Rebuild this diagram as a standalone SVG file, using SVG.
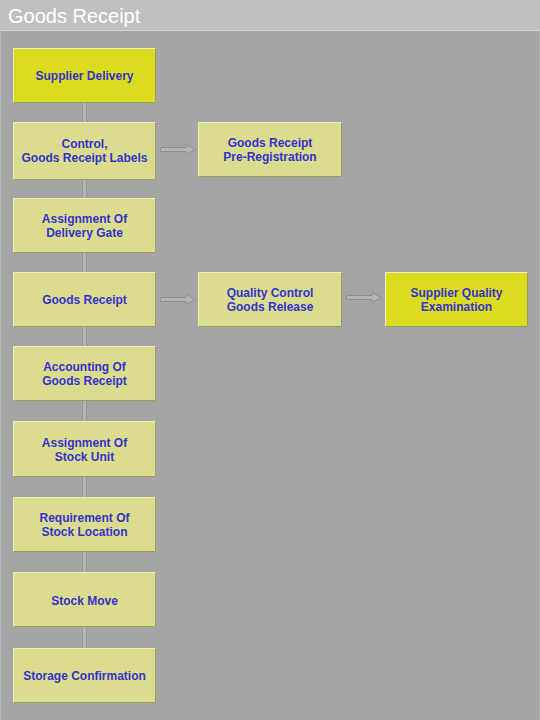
<svg xmlns="http://www.w3.org/2000/svg" width="540" height="720" viewBox="0 0 540 720">
<defs>
<style>
.bg{fill:#a5a5a5}
.hdr{fill:#c0c0c0}
.title{font-family:"Liberation Sans",Arial,sans-serif;font-size:20px;fill:#ffffff}
.box{stroke:none}
.pale{fill:#dcdc8e}
.yel{fill:#dcdc1e}
.hl{fill:none;stroke:#eeeeb8;stroke-width:1}
.sh{fill:none;stroke:#9c9c60;stroke-width:1}
.lbl{font-family:"Liberation Sans",Arial,sans-serif;font-size:12px;font-weight:bold;fill:#3333cc;text-anchor:middle}
.vline{fill:#b4b4b4;stroke:#989898;stroke-width:1}
.arr{fill:#b4b4b4;stroke:#8e8e8e;stroke-width:1}
</style>
</defs>
<rect class="bg" x="0" y="0" width="540" height="720"/>
<rect class="hdr" x="0" y="0" width="540" height="30"/>
<line x1="0" y1="30.5" x2="540" y2="30.5" stroke="#d2d2d2" stroke-width="1"/>
<line x1="0.5" y1="31" x2="0.5" y2="720" stroke="#b8b8b8" stroke-width="1"/>
<line x1="539.5" y1="31" x2="539.5" y2="720" stroke="#b8b8b8" stroke-width="1"/>
<text class="title" x="8" y="23">Goods Receipt</text>

<g id="connectors">
<rect class="vline" x="82.5" y="100" width="4" height="550"/>
<path class="arr" d="M160.5,147.5 H186 V144.5 L195.5,149.5 L186,154.5 V151.5 H160.5 Z"/>
<path class="arr" d="M160.5,297.5 H186 V294.5 L195.5,299.5 L186,304.5 V301.5 H160.5 Z"/>
<path class="arr" d="M346.5,295.5 H372 V292.5 L381.5,297.5 L372,302.5 V299.5 H346.5 Z"/>
</g>

<g id="n1">
<rect class="box yel" x="13" y="48" width="143" height="55"/>
<path class="hl" d="M13.5,102.5 V48.5 H155.5" stroke="#eeee80"/>
<path class="sh" d="M13.5,102.5 H155.5 V48.5" stroke="#a4a41a"/>
<text class="lbl" x="84.5" y="80">Supplier Delivery</text>
</g>

<g id="n2">
<rect class="box pale" x="13" y="122" width="143" height="58"/>
<path class="hl" d="M13.5,179.5 V122.5 H155.5"/>
<path class="sh" d="M13.5,179.5 H155.5 V122.5"/>
<text class="lbl" x="84.5" y="148">Control,</text>
<text class="lbl" x="84.5" y="162">Goods Receipt Labels</text>
</g>

<g id="n3">
<rect class="box pale" x="198" y="122" width="144" height="55"/>
<path class="hl" d="M198.5,176.5 V122.5 H341.5"/>
<path class="sh" d="M198.5,176.5 H341.5 V122.5"/>
<text class="lbl" x="270" y="147">Goods Receipt</text>
<text class="lbl" x="270" y="161">Pre-Registration</text>
</g>

<g id="n4">
<rect class="box pale" x="13" y="198" width="143" height="55"/>
<path class="hl" d="M13.5,252.5 V198.5 H155.5"/>
<path class="sh" d="M13.5,252.5 H155.5 V198.5"/>
<text class="lbl" x="84.5" y="223">Assignment Of</text>
<text class="lbl" x="84.5" y="237">Delivery Gate</text>
</g>

<g id="n5">
<rect class="box pale" x="13" y="272" width="143" height="55"/>
<path class="hl" d="M13.5,326.5 V272.5 H155.5"/>
<path class="sh" d="M13.5,326.5 H155.5 V272.5"/>
<text class="lbl" x="84.5" y="304">Goods Receipt</text>
</g>

<g id="n6">
<rect class="box pale" x="198" y="272" width="144" height="55"/>
<path class="hl" d="M198.5,326.5 V272.5 H341.5"/>
<path class="sh" d="M198.5,326.5 H341.5 V272.5"/>
<text class="lbl" x="270" y="297">Quality Control</text>
<text class="lbl" x="270" y="311">Goods Release</text>
</g>

<g id="n7">
<rect class="box yel" x="385" y="272" width="143" height="55"/>
<path class="hl" d="M385.5,326.5 V272.5 H527.5" stroke="#eeee80"/>
<path class="sh" d="M385.5,326.5 H527.5 V272.5" stroke="#a4a41a"/>
<text class="lbl" x="456.5" y="297">Supplier Quality</text>
<text class="lbl" x="456.5" y="311">Examination</text>
</g>

<g id="n8">
<rect class="box pale" x="13" y="346" width="143" height="55"/>
<path class="hl" d="M13.5,400.5 V346.5 H155.5"/>
<path class="sh" d="M13.5,400.5 H155.5 V346.5"/>
<text class="lbl" x="84.5" y="371">Accounting Of</text>
<text class="lbl" x="84.5" y="385">Goods Receipt</text>
</g>

<g id="n9">
<rect class="box pale" x="13" y="421" width="143" height="56"/>
<path class="hl" d="M13.5,476.5 V421.5 H155.5"/>
<path class="sh" d="M13.5,476.5 H155.5 V421.5"/>
<text class="lbl" x="84.5" y="447">Assignment Of</text>
<text class="lbl" x="84.5" y="461">Stock Unit</text>
</g>

<g id="n10">
<rect class="box pale" x="13" y="497" width="143" height="55"/>
<path class="hl" d="M13.5,551.5 V497.5 H155.5"/>
<path class="sh" d="M13.5,551.5 H155.5 V497.5"/>
<text class="lbl" x="84.5" y="522">Requirement Of</text>
<text class="lbl" x="84.5" y="536">Stock Location</text>
</g>

<g id="n11">
<rect class="box pale" x="13" y="572" width="143" height="55"/>
<path class="hl" d="M13.5,626.5 V572.5 H155.5"/>
<path class="sh" d="M13.5,626.5 H155.5 V572.5"/>
<text class="lbl" x="84.5" y="605">Stock Move</text>
</g>

<g id="n12">
<rect class="box pale" x="13" y="648" width="143" height="55"/>
<path class="hl" d="M13.5,702.5 V648.5 H155.5"/>
<path class="sh" d="M13.5,702.5 H155.5 V648.5"/>
<text class="lbl" x="84.5" y="680">Storage Confirmation</text>
</g>
</svg>
